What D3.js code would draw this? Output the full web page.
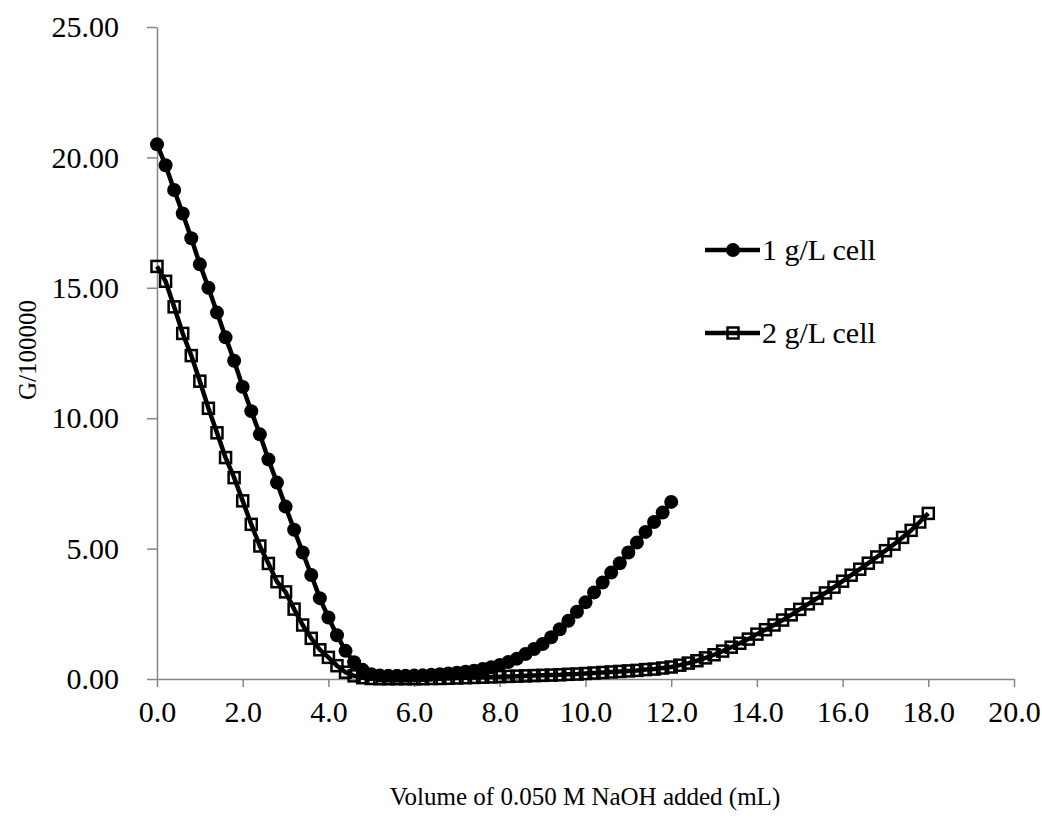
<!DOCTYPE html>
<html>
<head>
<meta charset="utf-8">
<script src="https://cdn.jsdelivr.net/npm/d3@7"></script>
<style>
  body { margin: 0; background: #fff; }
  svg text { fill: #000; }
  .axis path, .axis line { stroke: #868686; stroke-width: 1.5; }
  .line { fill: none; stroke: #000; stroke-width: 4.5; }
</style>
</head>
<body>
<script>
// Data // ----------------------------------------------------------------------
var volume1 = [0.0,0.2,0.4,0.6,0.8,1.0,1.2,1.4,1.6,1.8,2.0,2.2,2.4,2.6,2.8,3.0,3.2,3.4,3.6,3.8,
               4.0,4.2,4.4,4.6,4.8,5.0,5.2,5.4,5.6,5.8,6.0,6.2,6.4,6.6,6.8,7.0,7.2,7.4,7.6,7.8,
               8.0,8.2,8.4,8.6,8.8,9.0,9.2,9.4,9.6,9.8,10.0,10.2,10.4,10.6,10.8,11.0,11.2,11.4,11.6,11.8,12.0];
var cell1 = [20.50,19.70,18.75,17.85,16.90,15.90,15.00,14.05,13.10,12.20,11.20,10.27,9.38,8.42,7.53,6.61,5.72,4.85,3.99,3.10,
             2.36,1.68,1.08,0.64,0.35,0.18,0.13,0.12,0.12,0.12,0.13,0.14,0.16,0.18,0.21,0.24,0.28,0.32,0.38,0.45,
             0.54,0.65,0.78,0.96,1.15,1.34,1.60,1.91,2.23,2.58,2.94,3.32,3.70,4.08,4.44,4.85,5.23,5.64,6.02,6.38,6.79];

var volume2 = [0.0,0.2,0.4,0.6,0.8,1.0,1.2,1.4,1.6,1.8,2.0,2.2,2.4,2.6,2.8,3.0,3.2,3.4,3.6,3.8,
               4.0,4.2,4.4,4.6,4.8,5.0,5.2,5.4,5.6,5.8,6.0,6.2,6.4,6.6,6.8,7.0,7.2,7.4,7.6,7.8,
               8.0,8.2,8.4,8.6,8.8,9.0,9.2,9.4,9.6,9.8,10.0,10.2,10.4,10.6,10.8,11.0,11.2,11.4,11.6,11.8,
               12.0,12.2,12.4,12.6,12.8,13.0,13.2,13.4,13.6,13.8,14.0,14.2,14.4,14.6,14.8,15.0,15.2,15.4,15.6,15.8,
               16.0,16.2,16.4,16.6,16.8,17.0,17.2,17.4,17.6,17.8,18.0];
var cell2 = [15.82,15.25,14.27,13.25,12.40,11.42,10.38,9.44,8.49,7.72,6.83,5.93,5.10,4.43,3.73,3.34,2.68,2.07,1.56,1.12,
             0.83,0.51,0.26,0.12,0.05,0.02,0.01,0.01,0.01,0.01,0.01,0.01,0.02,0.02,0.03,0.04,0.05,0.06,0.07,0.08,
             0.09,0.10,0.11,0.12,0.13,0.14,0.15,0.16,0.18,0.19,0.21,0.23,0.25,0.27,0.29,0.31,0.33,0.36,0.38,0.42,
             0.46,0.53,0.61,0.70,0.81,0.93,1.07,1.22,1.37,1.53,1.72,1.89,2.07,2.26,2.46,2.67,2.88,3.09,3.30,3.52,
             3.75,3.98,4.21,4.44,4.68,4.92,5.17,5.43,5.70,6.02,6.35];

var seriesNames = ["1 g/L cell", "2 g/L cell"];
var xTicks = [0,2,4,6,8,10,12,14,16,18,20];
var yTicks = [0,5,10,15,20,25];
var xTitle = "Volume of 0.050 M NaOH added (mL)";
var yTitle = "G/100000";

var serif = "'Liberation Serif'";

// Key Functions and Variables // ----------------------------------------------
var margin = {top: 27, right: 28, bottom: 141, left: 157},
    width = 1042 - margin.left - margin.right,
    height = 820 - margin.top - margin.bottom;

var x = d3.scaleLinear().domain([0, 20]).range([0, width]),
    y = d3.scaleLinear().domain([0, 25]).range([height, 0]);

var valueLine = d3.line()
                  .x(function(d){ return x(d.v); })
                  .y(function(d){ return y(d.g); });

var svg = d3.select("body")
            .append("svg")
            .attr("width", width + margin.left + margin.right)
            .attr("height", height + margin.top + margin.bottom)
            .append("g")
            .attr("transform", "translate(" + margin.left + "," + margin.top + ")");

var data1 = volume1.map(function(v, i){ return {v: v, g: cell1[i]}; }),
    data2 = volume2.map(function(v, i){ return {v: v, g: cell2[i]}; });

// Axes // ----------------------------------------------------------------------
svg.append("g")
   .attr("class", "axis")
   .attr("transform", "translate(0," + height + ")")
   .call(d3.axisBottom(x).tickValues(xTicks).tickSize(8).tickSizeOuter(0).tickPadding(14)
           .tickFormat(d3.format(".1f")));

svg.append("g")
   .attr("class", "axis")
   .call(d3.axisLeft(y).tickValues(yTicks).tickSize(10).tickSizeOuter(0).tickPadding(28)
           .tickFormat(d3.format(".2f")));

svg.selectAll(".axis text").style("font-family", serif).style("font-size", "30px");

// axis titles
svg.append("text")
   .attr("x", 585 - margin.left)
   .attr("y", height + 126)
   .attr("text-anchor", "middle")
   .style("font-family", serif)
   .style("font-size", "25px")
   .text(xTitle);

svg.append("text")
   .attr("transform", "translate(" + (-121) + "," + (height / 2 - 3) + ") rotate(-90)")
   .attr("text-anchor", "middle")
   .style("font-family", serif)
   .style("font-size", "25px")
   .text(yTitle);

// Series // --------------------------------------------------------------------
svg.append("path").datum(data1).attr("class", "line").attr("d", valueLine);
svg.selectAll(".dot1")
   .data(data1).enter().append("circle")
   .attr("cx", function(d){ return x(d.v); })
   .attr("cy", function(d){ return y(d.g); })
   .attr("r", 7)
   .attr("fill", "#000");

svg.append("path").datum(data2).attr("class", "line").attr("d", valueLine);
svg.selectAll(".sq2")
   .data(data2).enter().append("rect")
   .attr("x", function(d){ return x(d.v) - 5.5; })
   .attr("y", function(d){ return y(d.g) - 5.5; })
   .attr("width", 11).attr("height", 11)
   .attr("fill", "none").attr("stroke", "#000").attr("stroke-width", 2.5);

// Legend // --------------------------------------------------------------------
var legend = svg.append("g").attr("transform", "translate(" + (705 - margin.left) + "," + (250 - margin.top) + ")");
seriesNames.forEach(function(name, i){
    var g = legend.append("g").attr("transform", "translate(0," + (i * 83) + ")");
    g.append("line").attr("x1", 0).attr("x2", 55).attr("y1", 0).attr("y2", 0)
     .attr("stroke", "#000").attr("stroke-width", 4.5);
    if (i === 0) {
        g.append("circle").attr("cx", 28).attr("cy", 0).attr("r", 7).attr("fill", "#000");
    } else {
        g.append("rect").attr("x", 22.5).attr("y", -5.5).attr("width", 11).attr("height", 11)
         .attr("fill", "none").attr("stroke", "#000").attr("stroke-width", 2.5);
    }
    g.append("text").attr("x", 57).attr("y", 10)
     .style("font-family", serif).style("font-size", "30px").text(name);
});
</script>
</body>
</html>
